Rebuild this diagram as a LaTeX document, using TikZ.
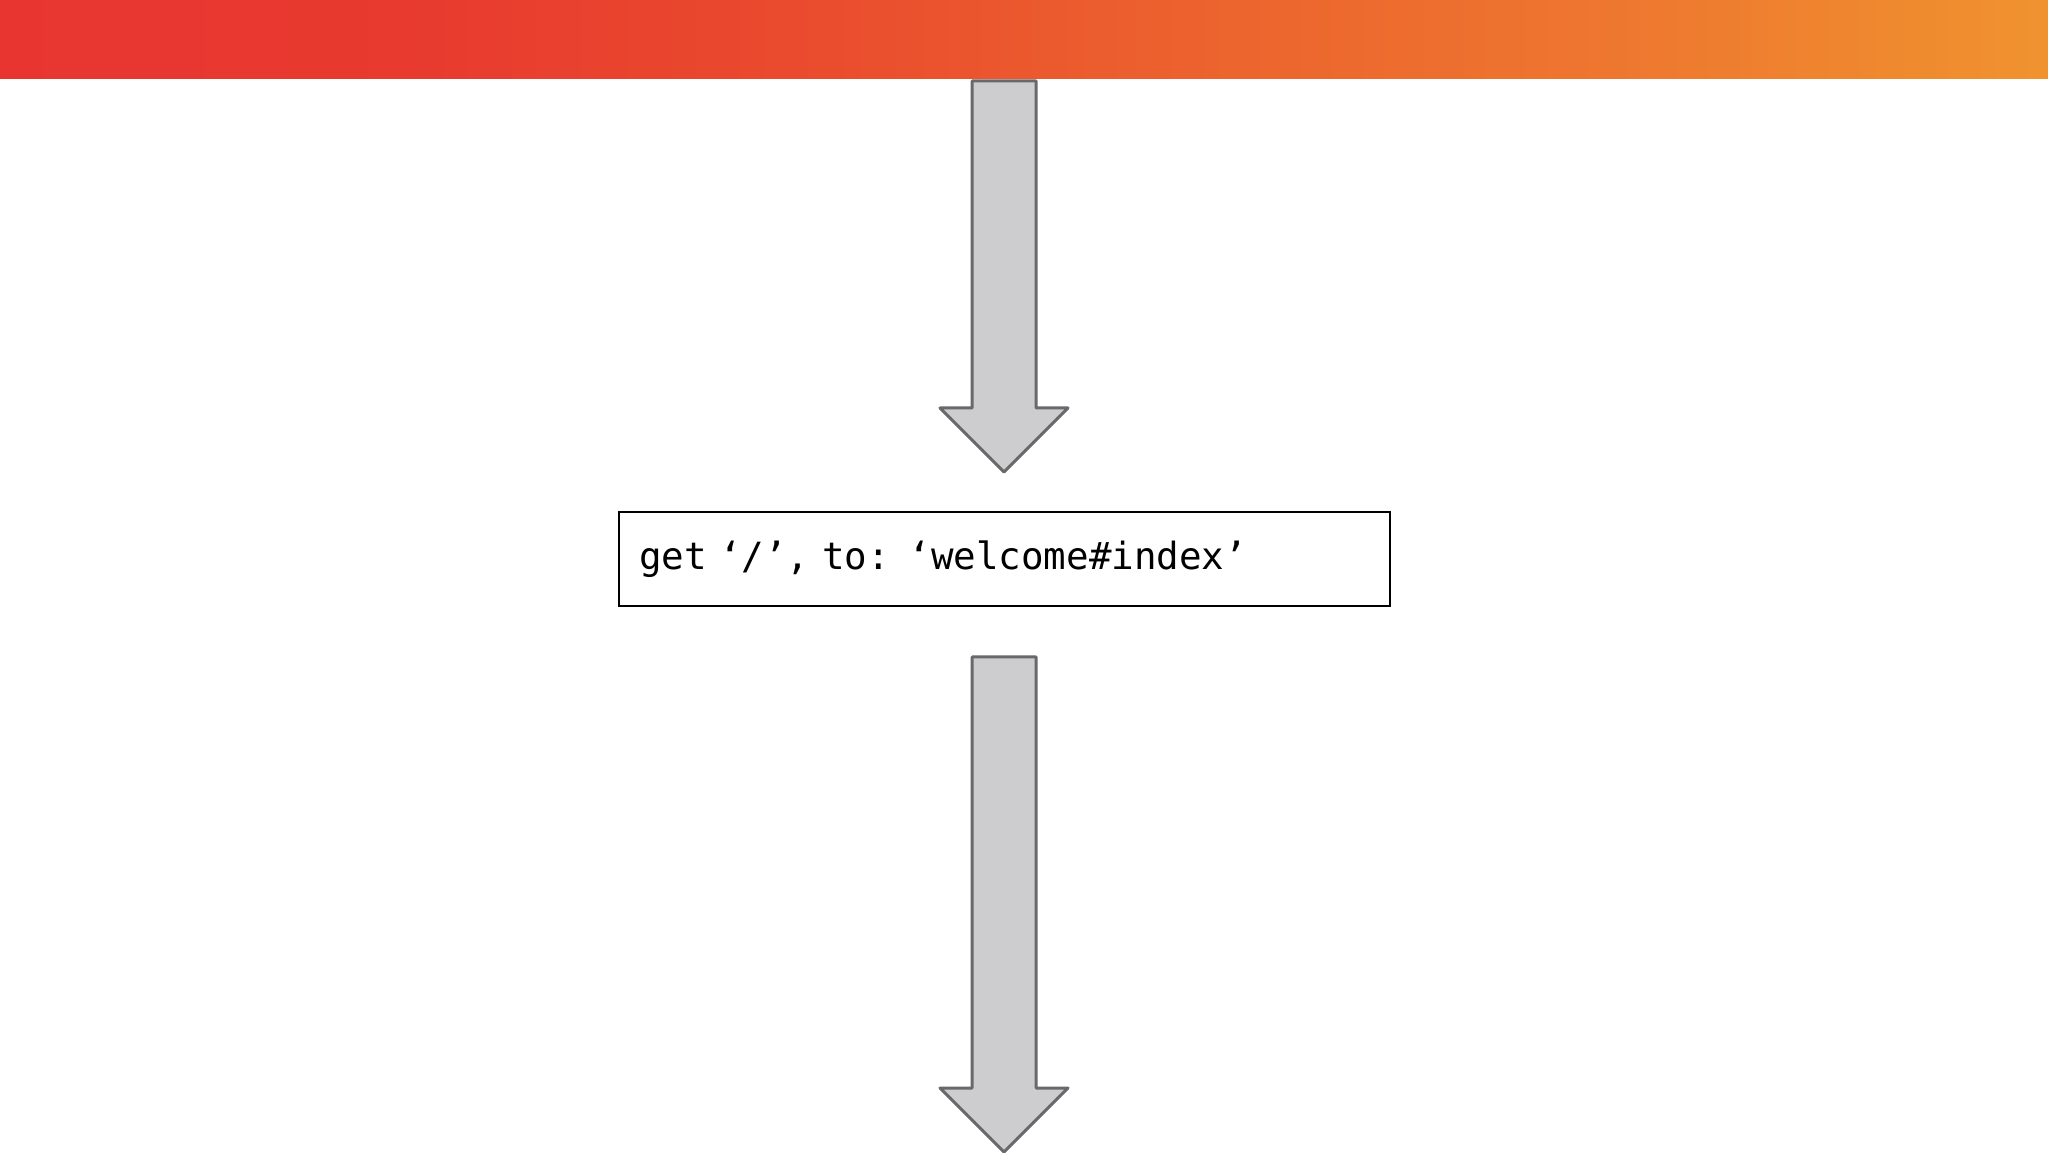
\documentclass[tikz,border=0pt]{standalone}
\usepackage{fontspec}
\setmonofont{DejaVu Sans Mono}
\usepackage{xcolor}
\usepackage{tikz}
\usetikzlibrary{calc}
\definecolor{bannerA}{HTML}{E83530}
\definecolor{bannerB}{HTML}{E83A2F}
\definecolor{bannerC}{HTML}{EA4C2E}
\definecolor{bannerD}{HTML}{EC642E}
\definecolor{bannerE}{HTML}{EE782F}
\definecolor{bannerF}{HTML}{F0932F}
\definecolor{arrowfill}{HTML}{CDCCCF}
\definecolor{arrowline}{HTML}{69686B}
\pgfdeclarehorizontalshading{bannershade}{100bp}{color(0bp)=(bannerA); color(25bp)=(bannerA);
  color(35bp)=(bannerB); color(45bp)=(bannerC); color(55bp)=(bannerD);
  color(65bp)=(bannerE); color(75bp)=(bannerF); color(100bp)=(bannerF)}
\tikzset{
  banner/.style={shading=bannershade, draw=none},
  blockarrow/.style={fill=arrowfill, draw=arrowline, line width=3pt, line join=round},
  codebox/.style={draw=black, fill=white, line width=1.6pt, inner xsep=20pt,
    minimum height=94pt, text width=731pt, align=left,
    font=\ttfamily\fontsize{37.5}{42}\selectfont}
}

\begin{document}
\begin{tikzpicture}[x=1pt, y=1pt]
  \useasboundingbox (0,0) rectangle (2048,1152);
  \fill[white] (0,0) rectangle (2048,1152);

  \shade[banner] (0,1073) rectangle (2048,1152);

  % upper arrow
  \coordinate (Atop) at (1004,1071);
  \coordinate (Atip) at (1004,680);
  \draw[blockarrow] ($(Atop)+(-32,0)$) -- ($(Atop)+(32,0)$) -- (1036,744) -- (1068,744)
    -- (Atip) -- (940,744) -- (972,744) -- cycle;

  \node[codebox] (route) at (1004.5,593) {get ‘/’, to: ‘welcome\#index’};

  % lower arrow
  \coordinate (Btop) at (1004,495);
  \coordinate (Btip) at (1004,0);
  \draw[blockarrow] ($(Btop)+(-32,0)$) -- ($(Btop)+(32,0)$) -- (1036,64) -- (1068,64)
    -- (Btip) -- (940,64) -- (972,64) -- cycle;
\end{tikzpicture}
\end{document}
